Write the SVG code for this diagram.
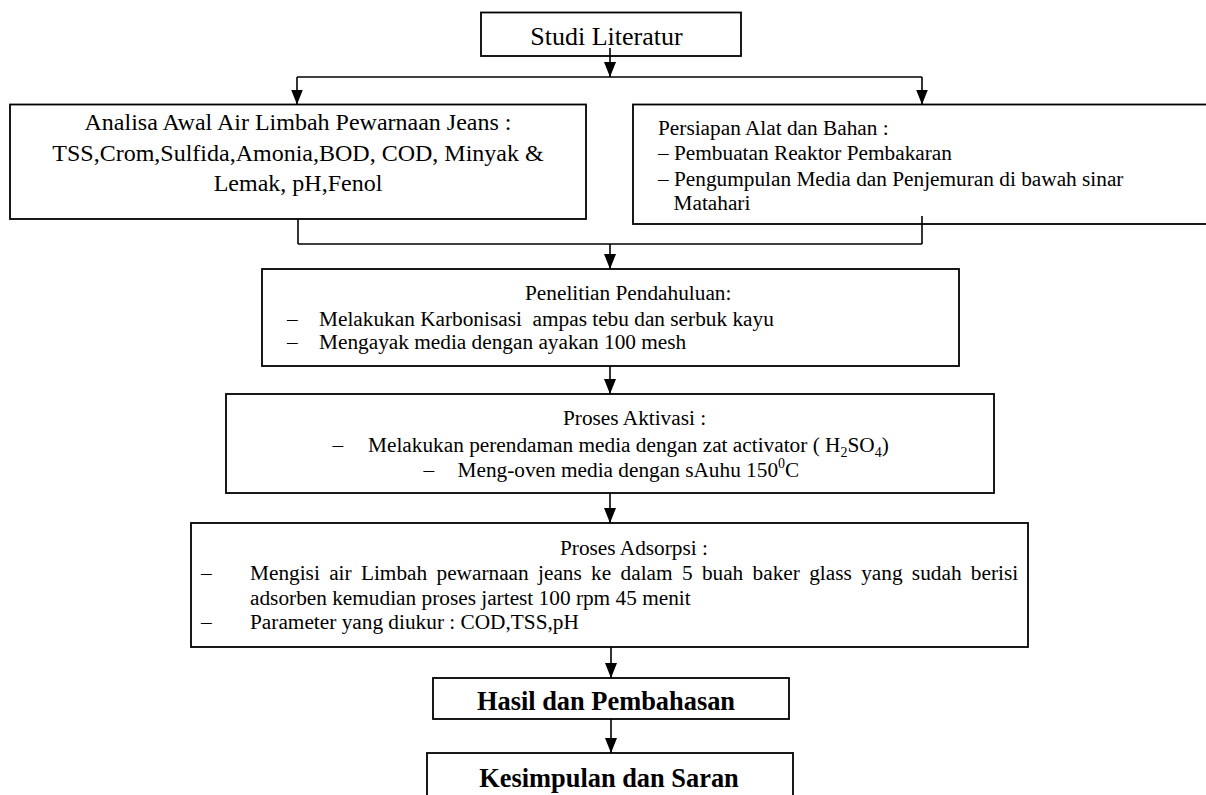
<svg xmlns="http://www.w3.org/2000/svg" width="1206" height="795" viewBox="0 0 1206 795">
<style>
.box{fill:#fff;stroke:#000;stroke-width:1.8}
.t{font-family:"Liberation Serif","Times New Roman",serif;font-size:21.3px;fill:#000}
.l{font-size:24px}
.h{font-size:26px}
.b{font-size:26.4px;font-weight:bold}
.c{stroke:#000;stroke-width:1.6;fill:none}
.sub{font-size:14px}
</style>
<defs>
<marker id="ah" viewBox="0 0 15 12" markerWidth="15" markerHeight="12" refX="15" refY="6" orient="auto" markerUnits="userSpaceOnUse">
<path d="M0,0 L15,6 L0,12 z" fill="#000"/>
</marker>
</defs>

<g id="studi">
<rect class="box" x="481" y="12.5" width="260" height="43.5"/>
<text class="t h" x="606.5" y="45" text-anchor="middle">Studi Literatur</text>
</g>

<g id="analisa">
<rect class="box" x="10" y="104.5" width="576" height="114.5"/>
<text class="t l" x="298" y="130" text-anchor="middle">Analisa Awal Air Limbah Pewarnaan Jeans :</text>
<text class="t l" x="298" y="161" text-anchor="middle">TSS,Crom,Sulfida,Amonia,BOD, COD, Minyak &amp;</text>
<text class="t l" x="298" y="191" text-anchor="middle">Lemak, pH,Fenol</text>
</g>

<g id="persiapan">
<rect class="box" x="633" y="104.5" width="600" height="119.5"/>
<text class="t" x="658" y="135">Persiapan Alat dan Bahan :</text>
<text class="t" x="658" y="160">– Pembuatan Reaktor Pembakaran</text>
<text class="t" x="658" y="185.5">– Pengumpulan Media dan Penjemuran di bawah sinar</text>
<text class="t" x="673.5" y="210">Matahari</text>
</g>

<g id="pendahuluan">
<rect class="box" x="262" y="269" width="697" height="97"/>
<text class="t" x="525" y="300">Penelitian Pendahuluan:</text>
<text class="t" x="287" y="325.5">–</text>
<text class="t" x="319" y="325.5" xml:space="preserve">Melakukan Karbonisasi  ampas tebu dan serbuk kayu</text>
<text class="t" x="287" y="349">–</text>
<text class="t" x="319" y="349">Mengayak media dengan ayakan 100 mesh</text>
</g>

<g id="aktivasi">
<rect class="box" x="226" y="394" width="768" height="99"/>
<text class="t" x="563" y="425">Proses Aktivasi :</text>
<text class="t" x="332.5" y="452">–</text>
<text class="t" x="368" y="452">Melakukan perendaman media dengan zat activator ( H<tspan class="sub" dy="5">2</tspan><tspan dy="-5">SO</tspan><tspan class="sub" dy="5">4</tspan><tspan dy="-5">)</tspan></text>
<text class="t" x="423.5" y="476.5">–</text>
<text class="t" x="457.5" y="476.5">Meng-oven media dengan sAuhu 150<tspan class="sub" dy="-9">0</tspan><tspan dy="9">C</tspan></text>
</g>

<g id="adsorpsi">
<rect class="box" x="191" y="523" width="837" height="124"/>
<text class="t" x="560" y="555">Proses Adsorpsi :</text>
<text class="t" x="201" y="580">–</text>
<text class="t" x="250" y="580" word-spacing="4">Mengisi air Limbah pewarnaan jeans ke dalam 5 buah baker glass yang sudah berisi</text>
<text class="t" x="250" y="604.5">adsorben kemudian proses jartest 100 rpm 45 menit</text>
<text class="t" x="201" y="629">–</text>
<text class="t" x="250" y="629">Parameter yang diukur : COD,TSS,pH</text>
</g>

<g id="hasil">
<rect class="box" x="433" y="678" width="356" height="41"/>
<text class="t b" x="606" y="710" text-anchor="middle">Hasil dan Pembahasan</text>
</g>

<g id="kesimpulan">
<rect class="box" x="427" y="753" width="366" height="60"/>
<text class="t b" x="609" y="787" text-anchor="middle">Kesimpulan dan Saran</text>
</g>

<g id="connectors">
<line class="c" x1="610" y1="48" x2="610" y2="77" marker-end="url(#ah)"/>
<line class="c" x1="297" y1="77" x2="922" y2="77"/>
<line class="c" x1="297" y1="77" x2="297" y2="104.5" marker-end="url(#ah)"/>
<line class="c" x1="922" y1="77" x2="922" y2="104.5" marker-end="url(#ah)"/>
<line class="c" x1="298" y1="219" x2="298" y2="244"/>
<line class="c" x1="922" y1="216" x2="922" y2="244"/>
<line class="c" x1="298" y1="244" x2="922" y2="244"/>
<line class="c" x1="610" y1="244" x2="610" y2="269" marker-end="url(#ah)"/>
<line class="c" x1="610" y1="366" x2="610" y2="394" marker-end="url(#ah)"/>
<line class="c" x1="610" y1="493" x2="610" y2="523" marker-end="url(#ah)"/>
<line class="c" x1="611" y1="647" x2="611" y2="678" marker-end="url(#ah)"/>
<line class="c" x1="611" y1="719" x2="611" y2="753" marker-end="url(#ah)"/>
</g>
</svg>
